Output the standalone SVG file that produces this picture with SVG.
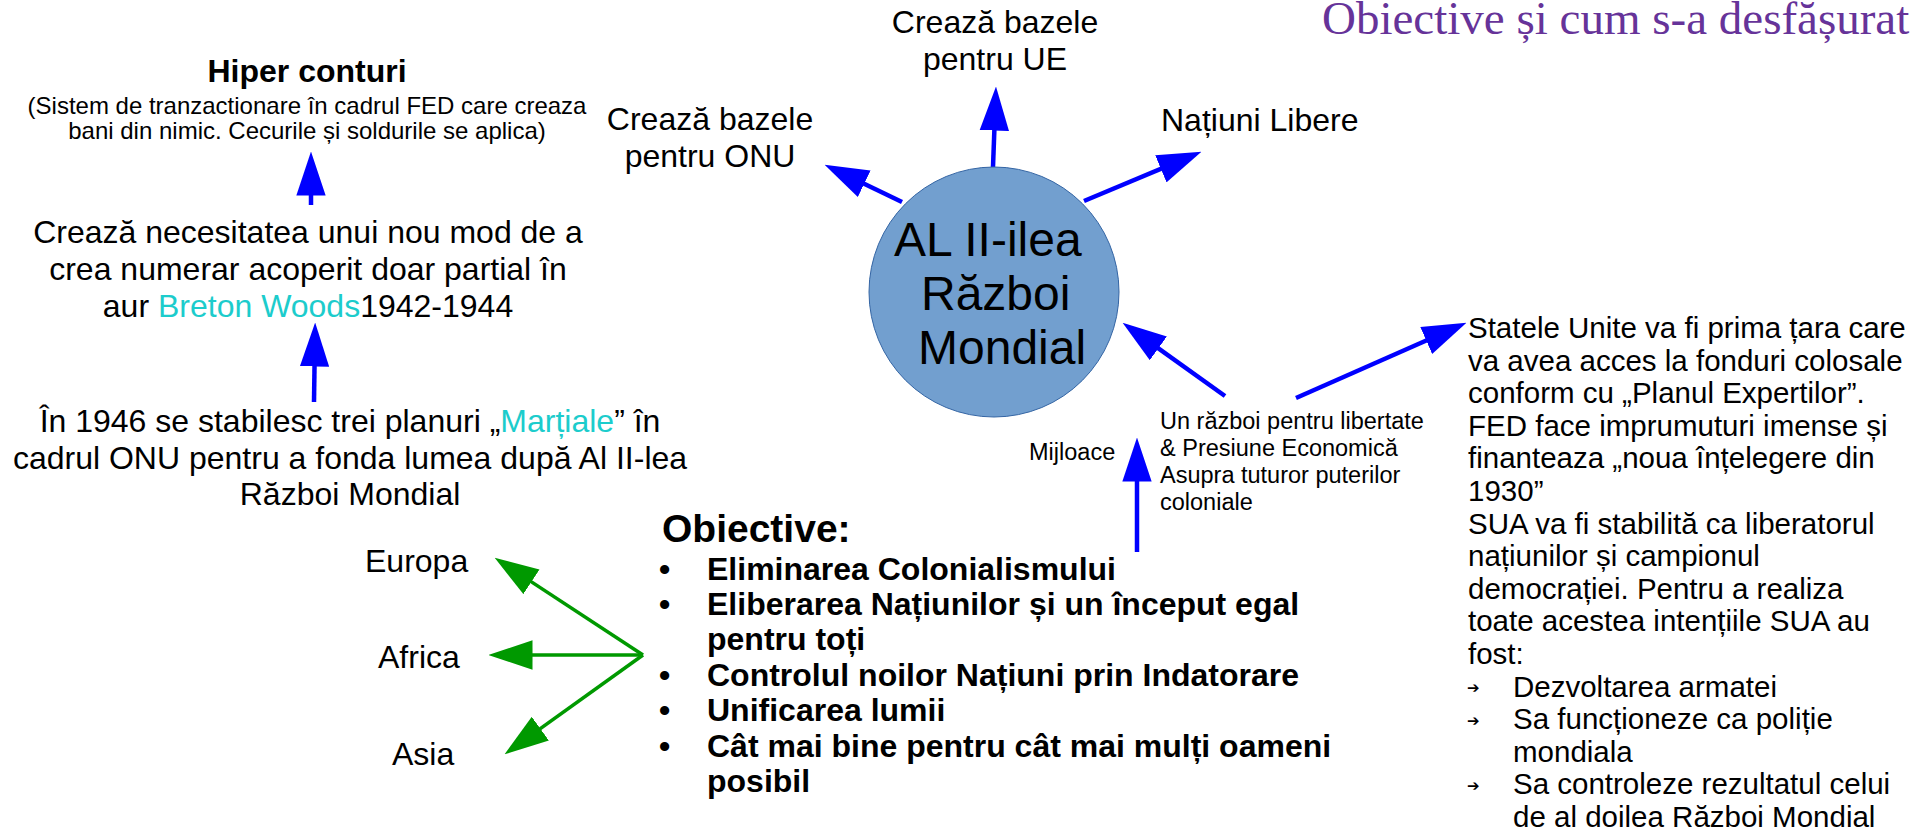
<svg xmlns="http://www.w3.org/2000/svg" width="1924" height="834" viewBox="0 0 1924 834">
<style>
text{font-family:"Liberation Sans",Arial,sans-serif;fill:#000}
.t32{font-size:32px}
.t24{font-size:24px}
.t23{font-size:23.5px}
.t29{font-size:29.5px}
.b{font-weight:bold}
.c{text-anchor:middle}
.cy{fill:#1ccccc}
.title{font-family:"Liberation Serif","Times New Roman",serif;font-size:47px;fill:#663399}
.blue{stroke:#0000ff;stroke-width:4.5;fill:none}
.green{stroke:#009900;stroke-width:3.5;fill:none}
.arr{font-family:"DejaVu Sans",sans-serif;font-size:15px;font-weight:bold}
</style>
<defs>
<marker id="mb" markerUnits="userSpaceOnUse" markerWidth="44" markerHeight="30" viewBox="0 0 42 28" refX="32" refY="14" orient="auto"><path d="M0,0 L42,14 L0,28 z" fill="#0000ff"/></marker>
<marker id="mg" markerUnits="userSpaceOnUse" markerWidth="44" markerHeight="30" viewBox="0 0 42 28" refX="32" refY="14" orient="auto"><path d="M0,0 L42,14 L0,28 z" fill="#009900"/></marker>
</defs>
<rect width="1924" height="834" fill="#fff"/>

<text class="title" x="1322" y="34">Obiective și cum s-a desfășurat</text>

<g id="connectors">
<line class="blue" x1="311" y1="205" x2="311" y2="162" marker-end="url(#mb)"/>
<line class="blue" x1="314" y1="402" x2="315" y2="333" marker-end="url(#mb)"/>
<line class="blue" x1="902" y1="202" x2="834" y2="169.3" marker-end="url(#mb)"/>
<line class="blue" x1="993" y1="167" x2="995.6" y2="97" marker-end="url(#mb)"/>
<line class="blue" x1="1084" y1="201" x2="1191.8" y2="155.9" marker-end="url(#mb)"/>
<line class="blue" x1="1225" y1="396" x2="1131.1" y2="328.8" marker-end="url(#mb)"/>
<line class="blue" x1="1296" y1="398" x2="1456.9" y2="327" marker-end="url(#mb)"/>
<line class="blue" x1="1137" y1="552" x2="1137" y2="448" marker-end="url(#mb)"/>
<line class="green" x1="643" y1="655" x2="503.4" y2="563.5" marker-end="url(#mg)"/>
<line class="green" x1="643" y1="655" x2="499" y2="655" marker-end="url(#mg)"/>
<line class="green" x1="643" y1="655" x2="513.1" y2="748.2" marker-end="url(#mg)"/>
</g>

<g id="war">
<circle cx="994" cy="292" r="125" fill="#729fcf" stroke="#3465a4" stroke-width="1"/>
<text style="font-size:48px" x="894" y="256">AL II-ilea</text>
<text style="font-size:48px" x="921" y="310">Război</text>
<text style="font-size:48px" x="918" y="364">Mondial</text>
</g>

<g id="hiper">
<text class="t32 b c" x="307" y="82">Hiper conturi</text>
<text class="t24 c" x="307" y="114">(Sistem de tranzactionare în cadrul FED care creaza</text>
<text class="t24 c" x="307" y="139">bani din nimic. Cecurile și soldurile se aplica)</text>
</g>

<g id="breton">
<text class="t32 c" x="308" y="243">Crează necesitatea unui nou mod de a</text>
<text class="t32 c" x="308" y="280">crea numerar acoperit doar partial în</text>
<text class="t32 c" x="308" y="317">aur <tspan class="cy">Breton Woods</tspan>1942-1944</text>
</g>

<g id="planuri">
<text class="t32 c" x="350" y="432">În 1946 se stabilesc trei planuri „<tspan class="cy">Marțiale</tspan>” în</text>
<text class="t32 c" x="350" y="469">cadrul ONU pentru a fonda lumea după Al II-lea</text>
<text class="t32 c" x="350" y="505">Război Mondial</text>
</g>

<g id="onu">
<text class="t32 c" x="710" y="130">Crează bazele</text>
<text class="t32 c" x="710" y="167">pentru ONU</text>
</g>

<g id="ue">
<text class="t32 c" x="995" y="33">Crează bazele</text>
<text class="t32 c" x="995" y="70">pentru UE</text>
</g>

<g id="libere">
<text class="t32" x="1161" y="131">Națiuni Libere</text>
</g>

<g id="mijloace">
<text class="t23" x="1029" y="460">Mijloace</text>
</g>

<g id="razboi-libertate">
<text class="t23" x="1160" y="429">Un război pentru libertate</text>
<text class="t23" x="1160" y="456">&amp; Presiune Economică</text>
<text class="t23" x="1160" y="483">Asupra tuturor puterilor</text>
<text class="t23" x="1160" y="510">coloniale</text>
</g>

<g id="statele">
<text class="t29" x="1468" y="338">Statele Unite va fi prima țara care</text>
<text class="t29" x="1468" y="370.6">va avea acces la fonduri colosale</text>
<text class="t29" x="1468" y="403.2">conform cu „Planul Expertilor”.</text>
<text class="t29" x="1468" y="435.8">FED face imprumuturi imense și</text>
<text class="t29" x="1468" y="468.4">finanteaza „noua înțelegere din</text>
<text class="t29" x="1468" y="501">1930”</text>
<text class="t29" x="1468" y="533.6">SUA va fi stabilită ca liberatorul</text>
<text class="t29" x="1468" y="566.2">națiunilor și campionul</text>
<text class="t29" x="1468" y="598.8">democrației. Pentru a realiza</text>
<text class="t29" x="1468" y="631.4">toate acestea intențiile SUA au</text>
<text class="t29" x="1468" y="664">fost:</text>
<text class="arr" x="1467" y="693">➔</text>
<text class="t29" x="1513" y="696.6">Dezvoltarea armatei</text>
<text class="arr" x="1467" y="725.6">➔</text>
<text class="t29" x="1513" y="729.2">Sa funcționeze ca poliție</text>
<text class="t29" x="1513" y="761.8">mondiala</text>
<text class="arr" x="1467" y="790.8">➔</text>
<text class="t29" x="1513" y="794.4">Sa controleze rezultatul celui</text>
<text class="t29" x="1513" y="827">de al doilea Război Mondial</text>
</g>

<g id="obiective">
<text class="b" style="font-size:39px" x="662" y="542">Obiective:</text>
<text class="t32 b" x="659" y="580">•</text>
<text class="t32 b" x="707" y="580">Eliminarea Colonialismului</text>
<text class="t32 b" x="659" y="615">•</text>
<text class="t32 b" x="707" y="615">Eliberarea Națiunilor și un început egal</text>
<text class="t32 b" x="707" y="650">pentru toți</text>
<text class="t32 b" x="659" y="686">•</text>
<text class="t32 b" x="707" y="686">Controlul noilor Națiuni prin Indatorare</text>
<text class="t32 b" x="659" y="721">•</text>
<text class="t32 b" x="707" y="721">Unificarea lumii</text>
<text class="t32 b" x="659" y="757">•</text>
<text class="t32 b" x="707" y="757">Cât mai bine pentru cât mai mulți oameni</text>
<text class="t32 b" x="707" y="792">posibil</text>
</g>

<g id="regions">
<text class="t32" x="365" y="572">Europa</text>
<text class="t32" x="378" y="668">Africa</text>
<text class="t32" x="392" y="765">Asia</text>
</g>
</svg>
